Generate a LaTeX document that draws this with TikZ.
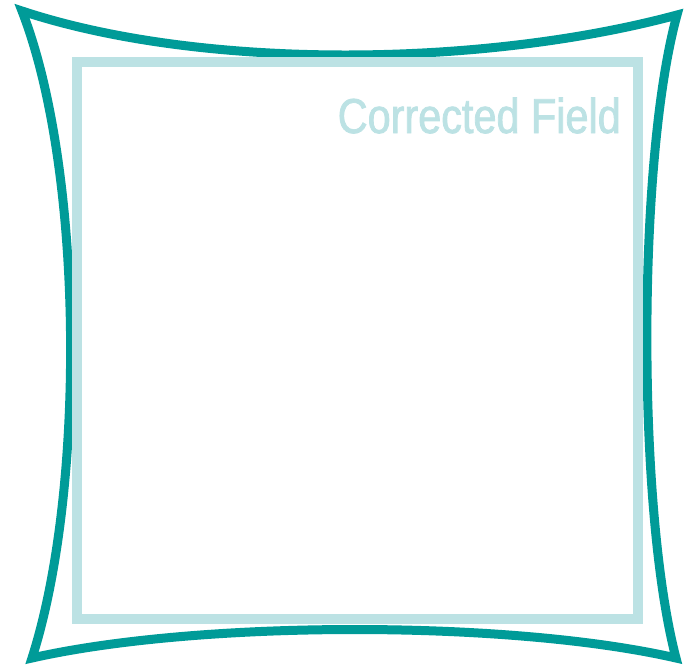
\documentclass[tikz,border=0pt]{standalone}
\usepackage{fontspec}
\setmainfont{Liberation Sans}
\newfontfamily\fieldfont{Liberation Sans}[FakeStretch=0.845, FakeBold=1.6]
\usepackage{xcolor}
\usetikzlibrary{positioning}
\definecolor{fieldteal}{HTML}{009B98}
\definecolor{fieldlight}{HTML}{BCE2E4}

\begin{document}
\begin{tikzpicture}[x=1pt, y=-1pt,
      distorted/.style={draw=fieldteal, line width=9pt, line join=miter, miter limit=10},
      corrected/.style={draw=fieldlight, line width=10pt},
      fieldlabel/.style={text=fieldlight, font=\fieldfont\fontsize{49}{49}\selectfont,
        inner sep=0pt, anchor=base east}]
    \useasboundingbox (0,0) rectangle (685,667);
    % corners of the distorted field
    \coordinate (tl) at (22,11);
    \coordinate (tr) at (677,15);
    \coordinate (br) at (676,658);
    \coordinate (bl) at (32,658);
    \draw[distorted] (tl) .. controls (200,70) and (480,68) .. (tr)
      .. controls (637,160) and (637,510) .. (br)
      .. controls (510,620) and (200,620) .. (bl)
      .. controls (86,490) and (84,170) .. cycle;
    % corrected field
    \draw[corrected] (77,62) rectangle (638,619);
    \node[fieldlabel] (label) at (621,133) {Corrected Field};
  \end{tikzpicture}
\end{document}
